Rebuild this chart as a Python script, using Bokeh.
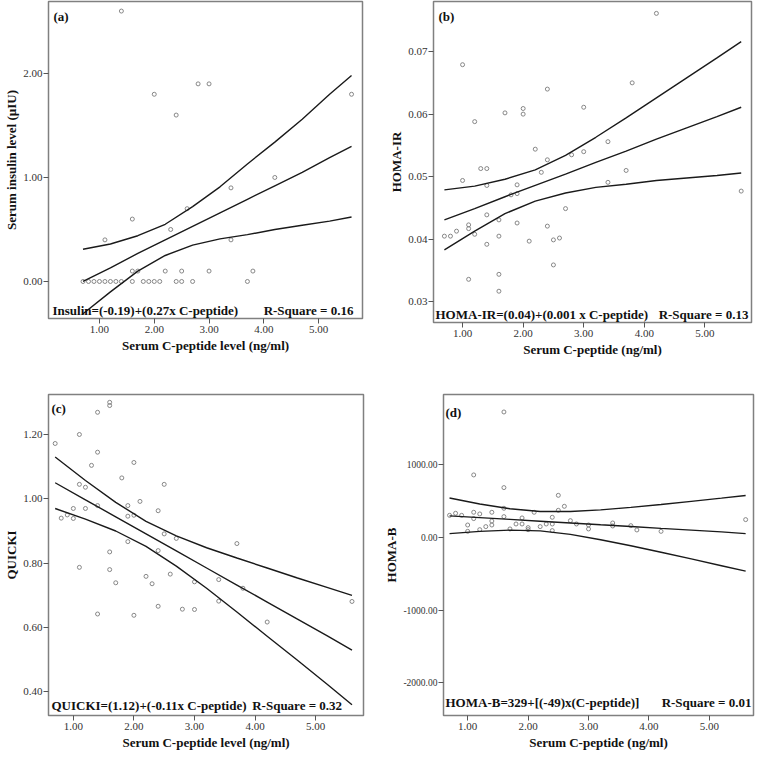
from bokeh.plotting import figure
from bokeh.layouts import column, row
from bokeh.models import Label, FixedTicker, NumeralTickFormatter, Range1d
from bokeh.embed import file_html
from bokeh.resources import INLINE

# ---------------- data ----------------
x_ticks = [1, 2, 3, 4, 5]
band_x = [0.7, 1.2, 1.7, 2.2, 2.7, 3.2, 3.7, 4.2, 4.7, 5.2, 5.6]

# (a) Serum insulin vs C-peptide
a_x = [1.4, 2.0, 2.4, 2.8, 3.0, 5.6, 4.2, 3.4, 2.6, 2.3, 1.6, 1.1, 3.4, 1.6, 1.7, 2.2, 2.5, 3.0, 3.8,
       0.7, 0.8, 0.9, 1.0, 1.1, 1.2, 1.3, 1.4, 1.6, 1.8, 1.9, 2.0, 2.1, 2.4, 2.5, 2.7, 3.7]
a_y = [2.6, 1.8, 1.6, 1.9, 1.9, 1.8, 1.0, 0.9, 0.7, 0.5, 0.6, 0.4, 0.4, 0.1, 0.1, 0.1, 0.1, 0.1, 0.1,
       0, 0, 0, 0, 0, 0, 0, 0, 0, 0, 0, 0, 0, 0, 0, 0, 0]
a_mean = [0.00, 0.13, 0.27, 0.40, 0.53, 0.66, 0.79, 0.92, 1.05, 1.19, 1.30]
a_upper = [0.31, 0.36, 0.44, 0.55, 0.72, 0.91, 1.13, 1.34, 1.56, 1.80, 1.98]
a_lower = [-0.31, -0.10, 0.10, 0.25, 0.35, 0.41, 0.45, 0.50, 0.54, 0.58, 0.62]
a_yticks = [0, 1, 2]

# (b) HOMA-IR vs C-peptide
b_x = [4.2, 1.0, 3.8, 2.4, 3.0, 2.0, 2.0, 1.7, 1.2, 3.4, 2.2, 2.8, 3.0, 2.4, 1.3, 1.4, 2.3, 1.0, 3.7, 1.4,
       1.9, 1.8, 1.9, 3.4, 5.6, 2.7, 1.4, 1.6, 1.9, 1.1, 1.1, 2.4, 0.7, 0.8, 0.9, 1.2, 1.6, 2.1, 2.5, 2.6,
       1.4, 2.5, 1.1, 1.6, 1.6]
b_y = [0.0761, 0.0679, 0.0650, 0.0640, 0.0611, 0.0609, 0.0600, 0.0602, 0.0588, 0.0556,
       0.0544, 0.0535, 0.0540, 0.0527, 0.0513, 0.0513, 0.0507, 0.0494, 0.0510, 0.0486,
       0.0487, 0.0471, 0.0473, 0.0491, 0.0477, 0.0449, 0.0439, 0.0431, 0.0426, 0.0423,
       0.0417, 0.0421, 0.0405, 0.0405, 0.0413, 0.0408, 0.0405, 0.0397, 0.0399, 0.0402,
       0.0392, 0.0359, 0.0336, 0.0344, 0.0317]
b_mean = [0.0431, 0.0449, 0.0468, 0.0486, 0.0504, 0.0523, 0.0541, 0.0560, 0.0578, 0.0596, 0.0611]
b_upper = [0.0479, 0.0485, 0.0496, 0.0511, 0.0534, 0.0563, 0.0594, 0.0626, 0.0658, 0.0690, 0.0716]
b_lower = [0.0383, 0.0413, 0.0441, 0.0461, 0.0474, 0.0483, 0.0488, 0.0494, 0.0498, 0.0502, 0.0506]
b_yticks = [0.03, 0.04, 0.05, 0.06, 0.07]

# (c) QUICKI vs C-peptide
c_x = [0.7, 0.8, 0.9, 1.0, 1.0, 1.1, 1.1, 1.2, 1.2, 1.1, 1.3, 1.4, 1.4, 1.4, 1.4, 1.6, 1.6, 1.6, 1.6,
       1.7, 1.8, 1.9, 1.9, 1.9, 2.0, 2.0, 2.0, 2.1, 2.2, 2.3, 2.4, 2.4, 2.4, 2.5, 2.5, 2.6, 2.7, 2.8,
       3.0, 3.0, 3.4, 3.4, 3.7, 3.8, 4.2, 5.6]
c_y = [1.172, 0.940, 0.950, 0.970, 0.939, 1.200, 1.045, 1.036, 0.970, 0.787, 1.104, 1.269, 1.145,
       0.979, 0.642, 1.300, 1.290, 0.835, 0.780, 0.739, 1.065, 0.979, 0.946, 0.867, 1.113, 0.949,
       0.638, 0.992, 0.759, 0.736, 0.963, 0.839, 0.666, 1.045, 0.891, 0.766, 0.877, 0.657, 0.742,
       0.656, 0.749, 0.682, 0.861, 0.722, 0.617, 0.681]
c_mean = [1.050, 0.997, 0.944, 0.891, 0.838, 0.785, 0.732, 0.679, 0.626, 0.573, 0.530]
c_upper = [1.130, 1.057, 0.989, 0.930, 0.885, 0.848, 0.816, 0.785, 0.754, 0.724, 0.700]
c_lower = [0.970, 0.937, 0.900, 0.852, 0.791, 0.722, 0.648, 0.573, 0.498, 0.422, 0.360]
c_yticks = [0.4, 0.6, 0.8, 1.0, 1.2]

# (d) HOMA-B vs C-peptide
d_x = [1.6, 1.1, 1.6, 2.5, 2.6, 2.5, 2.1, 0.7, 0.8, 0.9, 1.1, 1.2, 1.4, 1.6, 1.6, 1.0, 1.0, 1.1, 1.2,
       1.3, 1.4, 1.4, 1.7, 1.8, 1.9, 1.9, 2.0, 2.0, 2.2, 2.3, 2.4, 2.4, 2.4, 2.7, 2.8, 3.0, 3.0, 3.4,
       3.4, 3.7, 3.8, 4.2, 5.6]
d_y = [1722, 857, 683, 577, 426, 371, 344, 302, 330, 302, 344, 321, 344, 399, 284, 169, 82, 257, 105,
       147, 224, 169, 115, 183, 266, 183, 133, 105, 147, 183, 275, 183, 92, 229, 183, 169, 115, 197,
       156, 160, 101, 82, 243]
d_mean = [295, 270, 246, 221, 197, 172, 148, 123, 99, 74, 50]
d_upper = [540, 458, 392, 355, 354, 377, 412, 451, 494, 538, 575]
d_lower = [50, 82, 99, 88, 40, -33, -116, -205, -297, -390, -465]
d_yticks = [-2000, -1000, 0, 1000]

FONT = "Liberation Serif"


def panel(xs, ys, mean, upper, lower, xr, yr, yticks, xlab, ylab, tag, eq, rsq,
          fw, fh, bl, br, bt, bb, tag_xy, eq_xy, rsq_xy, rsq_align, ytick_size="11px"):
    p = figure(frame_width=fw, frame_height=fh, output_backend="svg", toolbar_location=None,
               title=None, x_range=Range1d(*xr), y_range=Range1d(*yr),
               min_border_left=bl, min_border_right=br, min_border_top=bt, min_border_bottom=bb)
    p.xgrid.visible = False
    p.ygrid.visible = False
    p.outline_line_color = "#808080"
    p.outline_line_width = 1.5
    p.background_fill_color = "white"
    p.border_fill_color = "white"
    for ax in (p.xaxis[0], p.yaxis[0]):
        ax.axis_line_color = None
        ax.major_tick_line_color = "#555555"
        ax.major_tick_out = 5
        ax.major_tick_in = 0
        ax.minor_tick_line_color = None
        ax.major_label_text_font = FONT
        ax.major_label_text_font_size = "11px"
        ax.major_label_text_color = "#333333"
        ax.major_label_standoff = 2
        ax.axis_label_text_font = FONT
        ax.axis_label_text_font_style = "bold"
        ax.axis_label_text_font_size = "13px"
        ax.axis_label_text_color = "#111111"
        ax.axis_label_standoff = 2
        ax.formatter = NumeralTickFormatter(format="0.00")
    p.yaxis[0].major_label_text_font_size = ytick_size
    p.yaxis[0].major_label_standoff = 1
    p.yaxis[0].axis_label_standoff = 1
    p.xaxis[0].ticker = FixedTicker(ticks=x_ticks)
    p.yaxis[0].ticker = FixedTicker(ticks=yticks)
    p.xaxis[0].axis_label = xlab
    p.yaxis[0].axis_label = ylab

    p.scatter(xs, ys, marker="circle", size=4, fill_color=None,
              line_color="#7a7a7a", line_width=0.9)
    for arr in (upper, mean, lower):
        p.line(band_x, arr, line_color="#1a1a1a", line_width=1.4)

    common = dict(x_units="screen", y_units="screen", text_font=FONT, text_font_size="13px",
                  text_font_style="bold", text_color="#111111", text_baseline="middle")
    p.add_layout(Label(x=tag_xy[0], y=tag_xy[1], text=tag, **common))
    p.add_layout(Label(x=eq_xy[0], y=eq_xy[1], text=eq, **common))
    p.add_layout(Label(x=rsq_xy[0], y=rsq_xy[1], text=rsq, text_align=rsq_align, **common))
    return p


pa = panel(a_x, a_y, a_mean, a_upper, a_lower, (0.07, 5.80), (-0.356, 2.692), a_yticks,
           "Serum C-peptide level (ng/ml)", "Serum insulin level (µIU)", "(a)",
           "Insulin=(-0.19)+(0.27x C-peptide)", "R-Square = 0.16",
           314, 317, 48, 18, 1, 60, (5, 302), (4, 8.5), (305, 8.5), "right")
pb = panel(b_x, b_y, b_mean, b_upper, b_lower, (0.52, 5.77), (0.0267, 0.0780), b_yticks,
           "Serum C-peptide (ng/ml)", "HOMA-IR", "(b)",
           "HOMA-IR=(0.04)+(0.001 x C-peptide)", "R-Square = 0.13",
           318, 321, 53, 4, 1, 56, (5, 306), (2, 8.3), (315, 8.3), "right")
pc = panel(c_x, c_y, c_mean, c_upper, c_lower, (0.59, 5.79), (0.3265, 1.3243), c_yticks,
           "Serum C-peptide level (ng/ml)", "QUICKI", "(c)",
           "QUICKI=(1.12)+(-0.11x C-peptide)", "R-Square = 0.32",
           315, 321, 48, 17, 16, 41, (3, 307), (3, 10), (203.7, 10), "left")
pd_ = panel(d_x, d_y, d_mean, d_upper, d_lower, (0.60, 5.73), (-2448, 1962), d_yticks,
            "Serum C-peptide (ng/ml)", "HOMA-B", "(d)",
            "HOMA-B=329+[(-49)x(C-peptide)]", "R-Square = 0.01",
            310, 321, 63, 2, 16, 41, (2, 303), (2, 13.3), (308, 13.3), "right", ytick_size="9.5px")

layout = column(row(pa, pb), row(pc, pd_))

open("out.html", "w").write(file_html(layout, INLINE))
